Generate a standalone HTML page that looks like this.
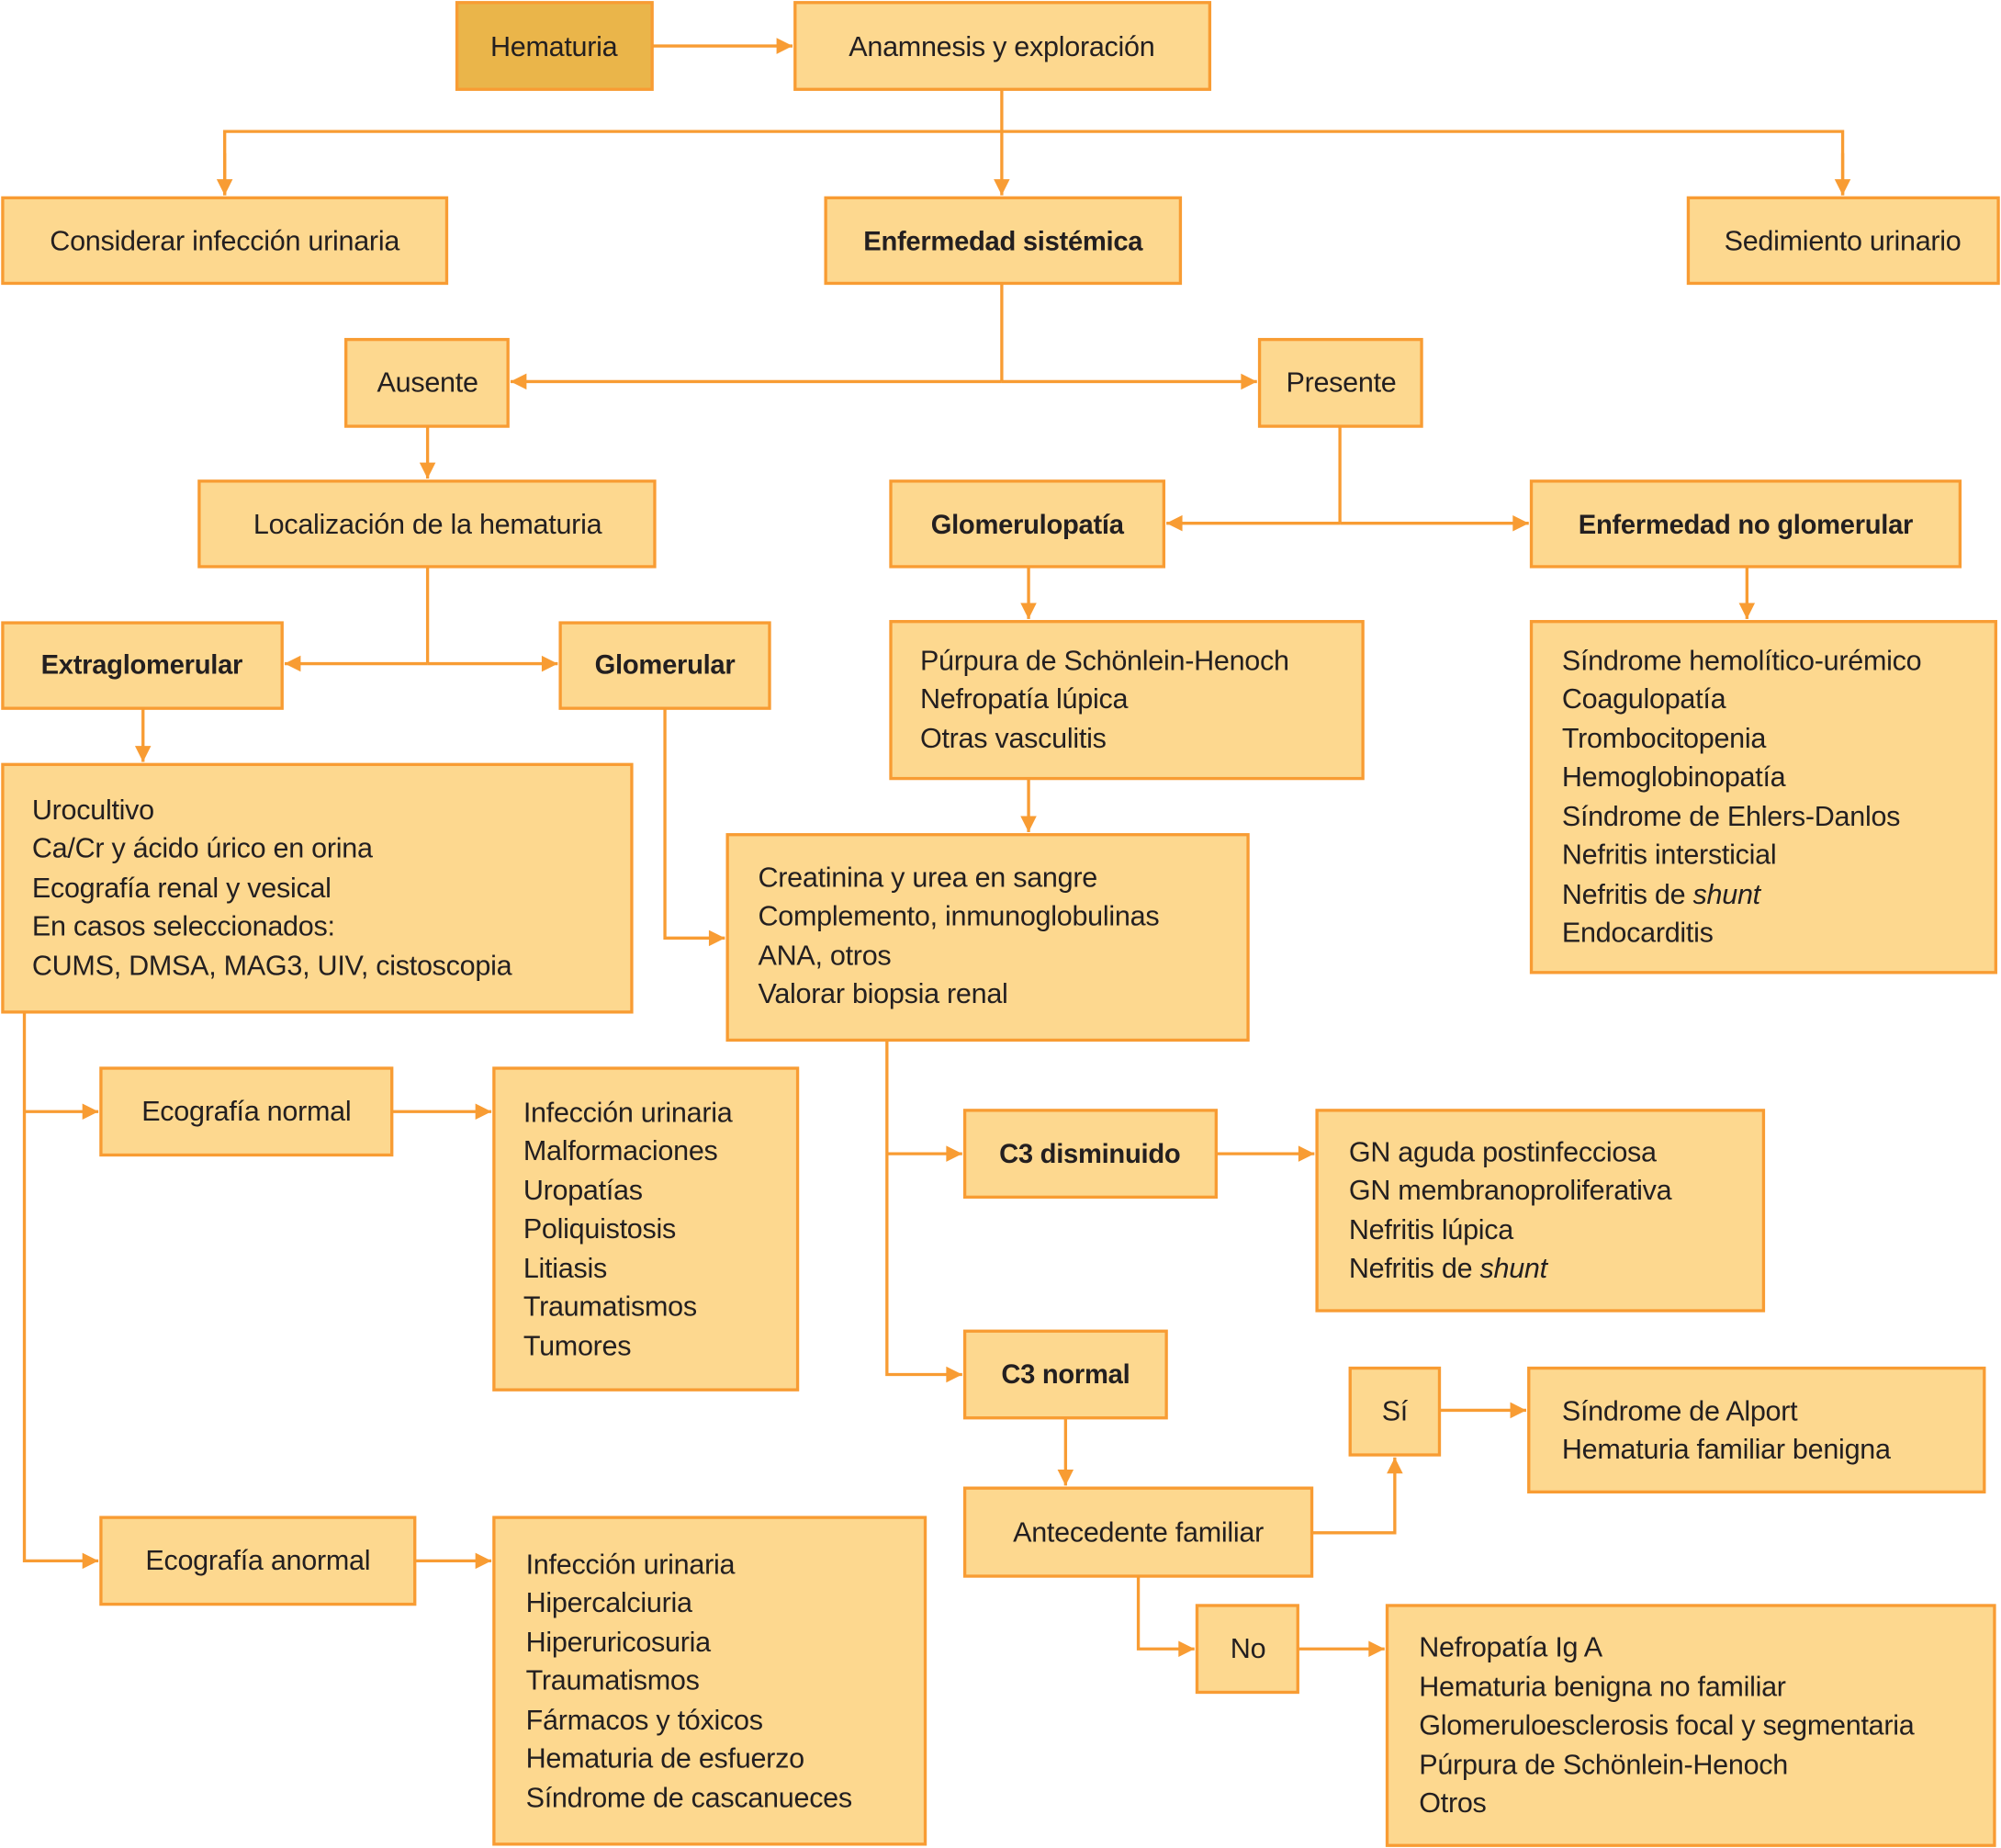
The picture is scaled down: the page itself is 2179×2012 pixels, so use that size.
<!DOCTYPE html>
<html><head><meta charset="utf-8">
<style>
html,body{margin:0;padding:0;background:#fff;}
svg{display:block;}
text{font-family:"Liberation Sans",sans-serif;font-size:22px;fill:#231f20;letter-spacing:-0.2px;}
.b{font-weight:bold;font-size:21px;}
rect{fill:#fdd88f;stroke:#f89c33;stroke-width:2.4;}
.l{fill:none;stroke:#f89c33;stroke-width:2.4;}
</style></head><body>
<svg width="2179" height="2012" viewBox="0 0 1568 1448" xmlns="http://www.w3.org/2000/svg">
<defs><marker id="a" viewBox="0 0 10 10" refX="10" refY="5" markerWidth="7" markerHeight="7" markerUnits="userSpaceOnUse" orient="auto" style="overflow:visible"><path d="M0,0 L10,5 L0,10 z" fill="#f89c33" transform="scale(1.8) translate(-4.4,-2.2)"/></marker></defs>
<g class="conn">
<path class="l" d="M511,36 H621" marker-end="url(#a)"/>
<path class="l" d="M785,70 V153" marker-end="url(#a)"/>
<path class="l" d="M176,153 V103 H1444 V153" />
<path class="l" d="M176,120 V153" marker-end="url(#a)"/>
<path class="l" d="M1444,120 V153" marker-end="url(#a)"/>
<path class="l" d="M785,222 V299"/>
<path class="l" d="M785,299 H400" marker-end="url(#a)"/>
<path class="l" d="M785,299 H985" marker-end="url(#a)"/>
<path class="l" d="M335,334 V375" marker-end="url(#a)"/>
<path class="l" d="M1050,334 V410"/>
<path class="l" d="M1050,410 H914" marker-end="url(#a)"/>
<path class="l" d="M1050,410 H1198" marker-end="url(#a)"/>
<path class="l" d="M806,444 V485" marker-end="url(#a)"/>
<path class="l" d="M1369,444 V485" marker-end="url(#a)"/>
<path class="l" d="M335,444 V520"/>
<path class="l" d="M335,520 H223" marker-end="url(#a)"/>
<path class="l" d="M335,520 H437" marker-end="url(#a)"/>
<path class="l" d="M112,555 V597" marker-end="url(#a)"/>
<path class="l" d="M521,555 V735 H568" marker-end="url(#a)"/>
<path class="l" d="M806,610 V652" marker-end="url(#a)"/>
<path class="l" d="M695,815 V1077 H754" marker-end="url(#a)"/>
<path class="l" d="M695,904 H754" marker-end="url(#a)"/>
<path class="l" d="M953,904 H1030" marker-end="url(#a)"/>
<path class="l" d="M835,1111 V1164" marker-end="url(#a)"/>
<path class="l" d="M1028,1201 H1093 V1142" marker-end="url(#a)"/>
<path class="l" d="M1128,1105 H1196" marker-end="url(#a)"/>
<path class="l" d="M892,1235 V1292 H936" marker-end="url(#a)"/>
<path class="l" d="M1017,1292 H1085" marker-end="url(#a)"/>
<path class="l" d="M19,793 V1223 H77" marker-end="url(#a)"/>
<path class="l" d="M19,871 H77" marker-end="url(#a)"/>
<path class="l" d="M307,871 H385" marker-end="url(#a)"/>
<path class="l" d="M325,1223 H385" marker-end="url(#a)"/>
</g>
<rect x="358" y="2" width="153" height="68" style="fill:#eab54a"/><text x="434" y="44" text-anchor="middle">Hematuria</text>
<rect x="623" y="2" width="325" height="68"/><text x="785" y="44" text-anchor="middle">Anamnesis y exploración</text>
<rect x="2" y="155" width="348" height="67"/><text x="176" y="196" text-anchor="middle">Considerar infección urinaria</text>
<rect x="647" y="155" width="278" height="67"/><text class="b" x="786" y="196" text-anchor="middle">Enfermedad sistémica</text>
<rect x="1323" y="155" width="243" height="67"/><text x="1444" y="196" text-anchor="middle">Sedimiento urinario</text>
<rect x="271" y="266" width="127" height="68"/><text x="335" y="307" text-anchor="middle">Ausente</text>
<rect x="987" y="266" width="127" height="68"/><text x="1051" y="307" text-anchor="middle">Presente</text>
<rect x="156" y="377" width="357" height="67"/><text x="335" y="418" text-anchor="middle">Localización de la hematuria</text>
<rect x="698" y="377" width="214" height="67"/><text class="b" x="805" y="418" text-anchor="middle">Glomerulopatía</text>
<rect x="1200" y="377" width="336" height="67"/><text class="b" x="1368" y="418" text-anchor="middle">Enfermedad no glomerular</text>
<rect x="2" y="488" width="219" height="67"/><text class="b" x="111" y="528" text-anchor="middle">Extraglomerular</text>
<rect x="439" y="488" width="164" height="67"/><text class="b" x="521" y="528" text-anchor="middle">Glomerular</text>
<rect x="698" y="487" width="370" height="123"/>
<text x="721" y="525">Púrpura de Schönlein-Henoch</text><text x="721" y="555">Nefropatía lúpica</text><text x="721" y="586">Otras vasculitis</text>
<rect x="1200" y="487" width="364" height="275"/>
<text x="1224" y="525">Síndrome hemolítico-urémico</text><text x="1224" y="555">Coagulopatía</text><text x="1224" y="586">Trombocitopenia</text><text x="1224" y="616">Hemoglobinopatía</text><text x="1224" y="647">Síndrome de Ehlers-Danlos</text><text x="1224" y="677">Nefritis intersticial</text><text x="1224" y="708">Nefritis de <tspan font-style="italic">shunt</tspan></text><text x="1224" y="738">Endocarditis</text>
<rect x="2" y="599" width="493" height="194"/>
<text x="25" y="642">Urocultivo</text><text x="25" y="672">Ca/Cr y ácido úrico en orina</text><text x="25" y="703">Ecografía renal y vesical</text><text x="25" y="733">En casos seleccionados:</text><text x="25" y="764">CUMS, DMSA, MAG3, UIV, cistoscopia</text>
<rect x="570" y="654" width="408" height="161"/>
<text x="594" y="695">Creatinina y urea en sangre</text><text x="594" y="725">Complemento, inmunoglobulinas</text><text x="594" y="756">ANA, otros</text><text x="594" y="786">Valorar biopsia renal</text>
<rect x="79" y="837" width="228" height="68"/><text x="193" y="878" text-anchor="middle">Ecografía normal</text>
<rect x="387" y="837" width="238" height="252"/>
<text x="410" y="879">Infección urinaria</text><text x="410" y="909">Malformaciones</text><text x="410" y="940">Uropatías</text><text x="410" y="970">Poliquistosis</text><text x="410" y="1001">Litiasis</text><text x="410" y="1031">Traumatismos</text><text x="410" y="1062">Tumores</text>
<rect x="756" y="870" width="197" height="68"/><text class="b" x="854" y="911" text-anchor="middle">C3 disminuido</text>
<rect x="1032" y="870" width="350" height="157"/>
<text x="1057" y="910">GN aguda postinfecciosa</text><text x="1057" y="940">GN membranoproliferativa</text><text x="1057" y="971">Nefritis lúpica</text><text x="1057" y="1001">Nefritis de <tspan font-style="italic">shunt</tspan></text>
<rect x="756" y="1043" width="158" height="68"/><text class="b" x="835" y="1084" text-anchor="middle">C3 normal</text>
<rect x="1058" y="1072" width="70" height="68"/><text x="1093" y="1113" text-anchor="middle">Sí</text>
<rect x="1198" y="1072" width="357" height="97"/>
<text x="1224" y="1113">Síndrome de Alport</text><text x="1224" y="1143">Hematuria familiar benigna</text>
<rect x="756" y="1166" width="272" height="69"/><text x="892" y="1208" text-anchor="middle">Antecedente familiar</text>
<rect x="938" y="1258" width="79" height="68"/><text x="978" y="1299" text-anchor="middle">No</text>
<rect x="1087" y="1258" width="476" height="188"/>
<text x="1112" y="1298">Nefropatía Ig A</text><text x="1112" y="1329">Hematuria benigna no familiar</text><text x="1112" y="1359">Glomeruloesclerosis focal y segmentaria</text><text x="1112" y="1390">Púrpura de Schönlein-Henoch</text><text x="1112" y="1420">Otros</text>
<rect x="79" y="1189" width="246" height="68"/><text x="202" y="1230" text-anchor="middle">Ecografía anormal</text>
<rect x="387" y="1189" width="338" height="256"/>
<text x="412" y="1233">Infección urinaria</text><text x="412" y="1263">Hipercalciuria</text><text x="412" y="1294">Hiperuricosuria</text><text x="412" y="1324">Traumatismos</text><text x="412" y="1355">Fármacos y tóxicos</text><text x="412" y="1385">Hematuria de esfuerzo</text><text x="412" y="1416">Síndrome de cascanueces</text>
</svg>
</body></html>
